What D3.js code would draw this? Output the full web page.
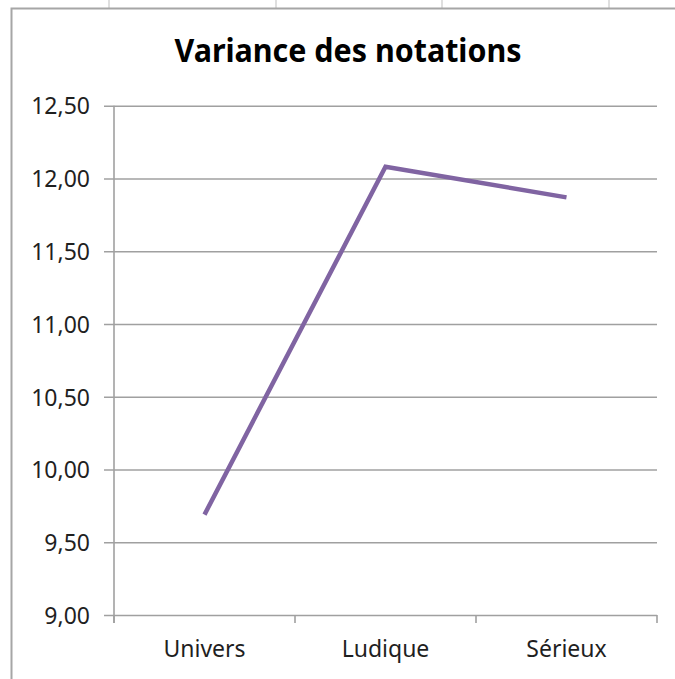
<!DOCTYPE html>
<html>
<head>
<meta charset="utf-8">
<style>
body {
  margin: 0;
  background: #fff;
}
svg {
  display: block;
}
.axis-label {
  font-family: "Noto Sans", sans-serif;
  fill: #1f1f1f;
}
</style>
</head>
<body>
<div id="vis">
  <svg></svg>
</div>

<script src="https://d3js.org/d3.v7.min.js"></script>
<script>

var categories = ["Univers", "Ludique", "Sérieux"];
var values = [9.69, 12.08, 11.87];
var yTicks = [9.0, 9.5, 10.0, 10.5, 11.0, 11.5, 12.0, 12.5];
var title = "Variance des notations";

var width = 675,
    height = 679;

var svg = d3.select("svg")
    .attr("width", width)
    .attr("height", height);

svg.append("rect")
    .attr("width", width)
    .attr("height", height)
    .attr("fill", "#fff");

// spreadsheet column lines peeking above the chart frame
svg.selectAll(".col")
    .data([109, 276, 442, 609])
    .enter().append("line")
    .attr("x1", function(d) { return d; })
    .attr("x2", function(d) { return d; })
    .attr("y1", 0)
    .attr("y2", 8)
    .attr("stroke", "#d4d4d4")
    .attr("stroke-width", 1.5);

// chart frame
svg.append("rect")
    .attr("x", 11.5)
    .attr("y", 8.5)
    .attr("width", width)
    .attr("height", height)
    .attr("fill", "#fff")
    .attr("stroke", "#a6a6a6")
    .attr("stroke-width", 2);

var plotLeft = 114, plotRight = 657, plotTop = 105.7, plotBottom = 615;

var x = d3.scaleBand()
    .domain(categories)
    .range([plotLeft, plotRight]);

var y = d3.scaleLinear()
    .domain([9, 12.5])
    .range([plotBottom, plotTop]);

var fmt = function(d) { return d3.format(".2f")(d).replace(".", ","); };

svg.append("text")
    .attr("x", 348)
    .attr("y", 62)
    .attr("text-anchor", "middle")
    .attr("font-family", "'Noto Sans', sans-serif")
    .attr("font-weight", "bold")
    .attr("font-size", 32)
    .attr("textLength", 347)
    .attr("lengthAdjust", "spacingAndGlyphs")
    .attr("fill", "#000")
    .text(title);

// y axis with gridlines
var yAxis = svg.append("g")
    .attr("transform", "translate(" + plotLeft + ",0)")
    .call(d3.axisLeft(y)
      .tickValues(yTicks)
      .tickSize(-(plotRight - plotLeft))
      .tickFormat(fmt));

yAxis.select(".domain").remove();
yAxis.selectAll(".tick line")
    .attr("x1", -10)
    .attr("stroke", "#a0a0a0")
    .attr("stroke-width", 1.6);
yAxis.selectAll(".tick text")
    .attr("class", "axis-label")
    .attr("x", -24)
    .attr("dy", "0.36em")
    .attr("font-size", 23);

svg.append("line")
    .attr("x1", plotLeft)
    .attr("x2", plotLeft)
    .attr("y1", plotTop)
    .attr("y2", plotBottom + 8)
    .attr("stroke", "#a0a0a0")
    .attr("stroke-width", 1.6);

// x axis
var xAxis = svg.append("g")
    .attr("transform", "translate(0," + plotBottom + ")")
    .call(d3.axisBottom(x).tickSize(0).tickPadding(0));

xAxis.select(".domain").remove();
xAxis.selectAll(".tick text")
    .attr("class", "axis-label")
    .attr("y", 42)
    .attr("dy", 0)
    .attr("font-size", 23);

svg.append("g")
    .selectAll("line")
    .data(categories.concat([null]))
    .enter().append("line")
    .attr("x1", function(d, i) { return plotLeft + i * x.bandwidth(); })
    .attr("x2", function(d, i) { return plotLeft + i * x.bandwidth(); })
    .attr("y1", plotBottom)
    .attr("y2", plotBottom + 8)
    .attr("stroke", "#a0a0a0")
    .attr("stroke-width", 1.6);

var line = d3.line()
    .x(function(d, i) { return x(categories[i]) + x.bandwidth() / 2; })
    .y(function(d) { return y(d); });

svg.append("path")
    .datum(values)
    .attr("d", line)
    .attr("fill", "none")
    .attr("stroke", "#8064a2")
    .attr("stroke-width", 4.5)
    .attr("stroke-linejoin", "miter");

</script>
</body>
</html>
